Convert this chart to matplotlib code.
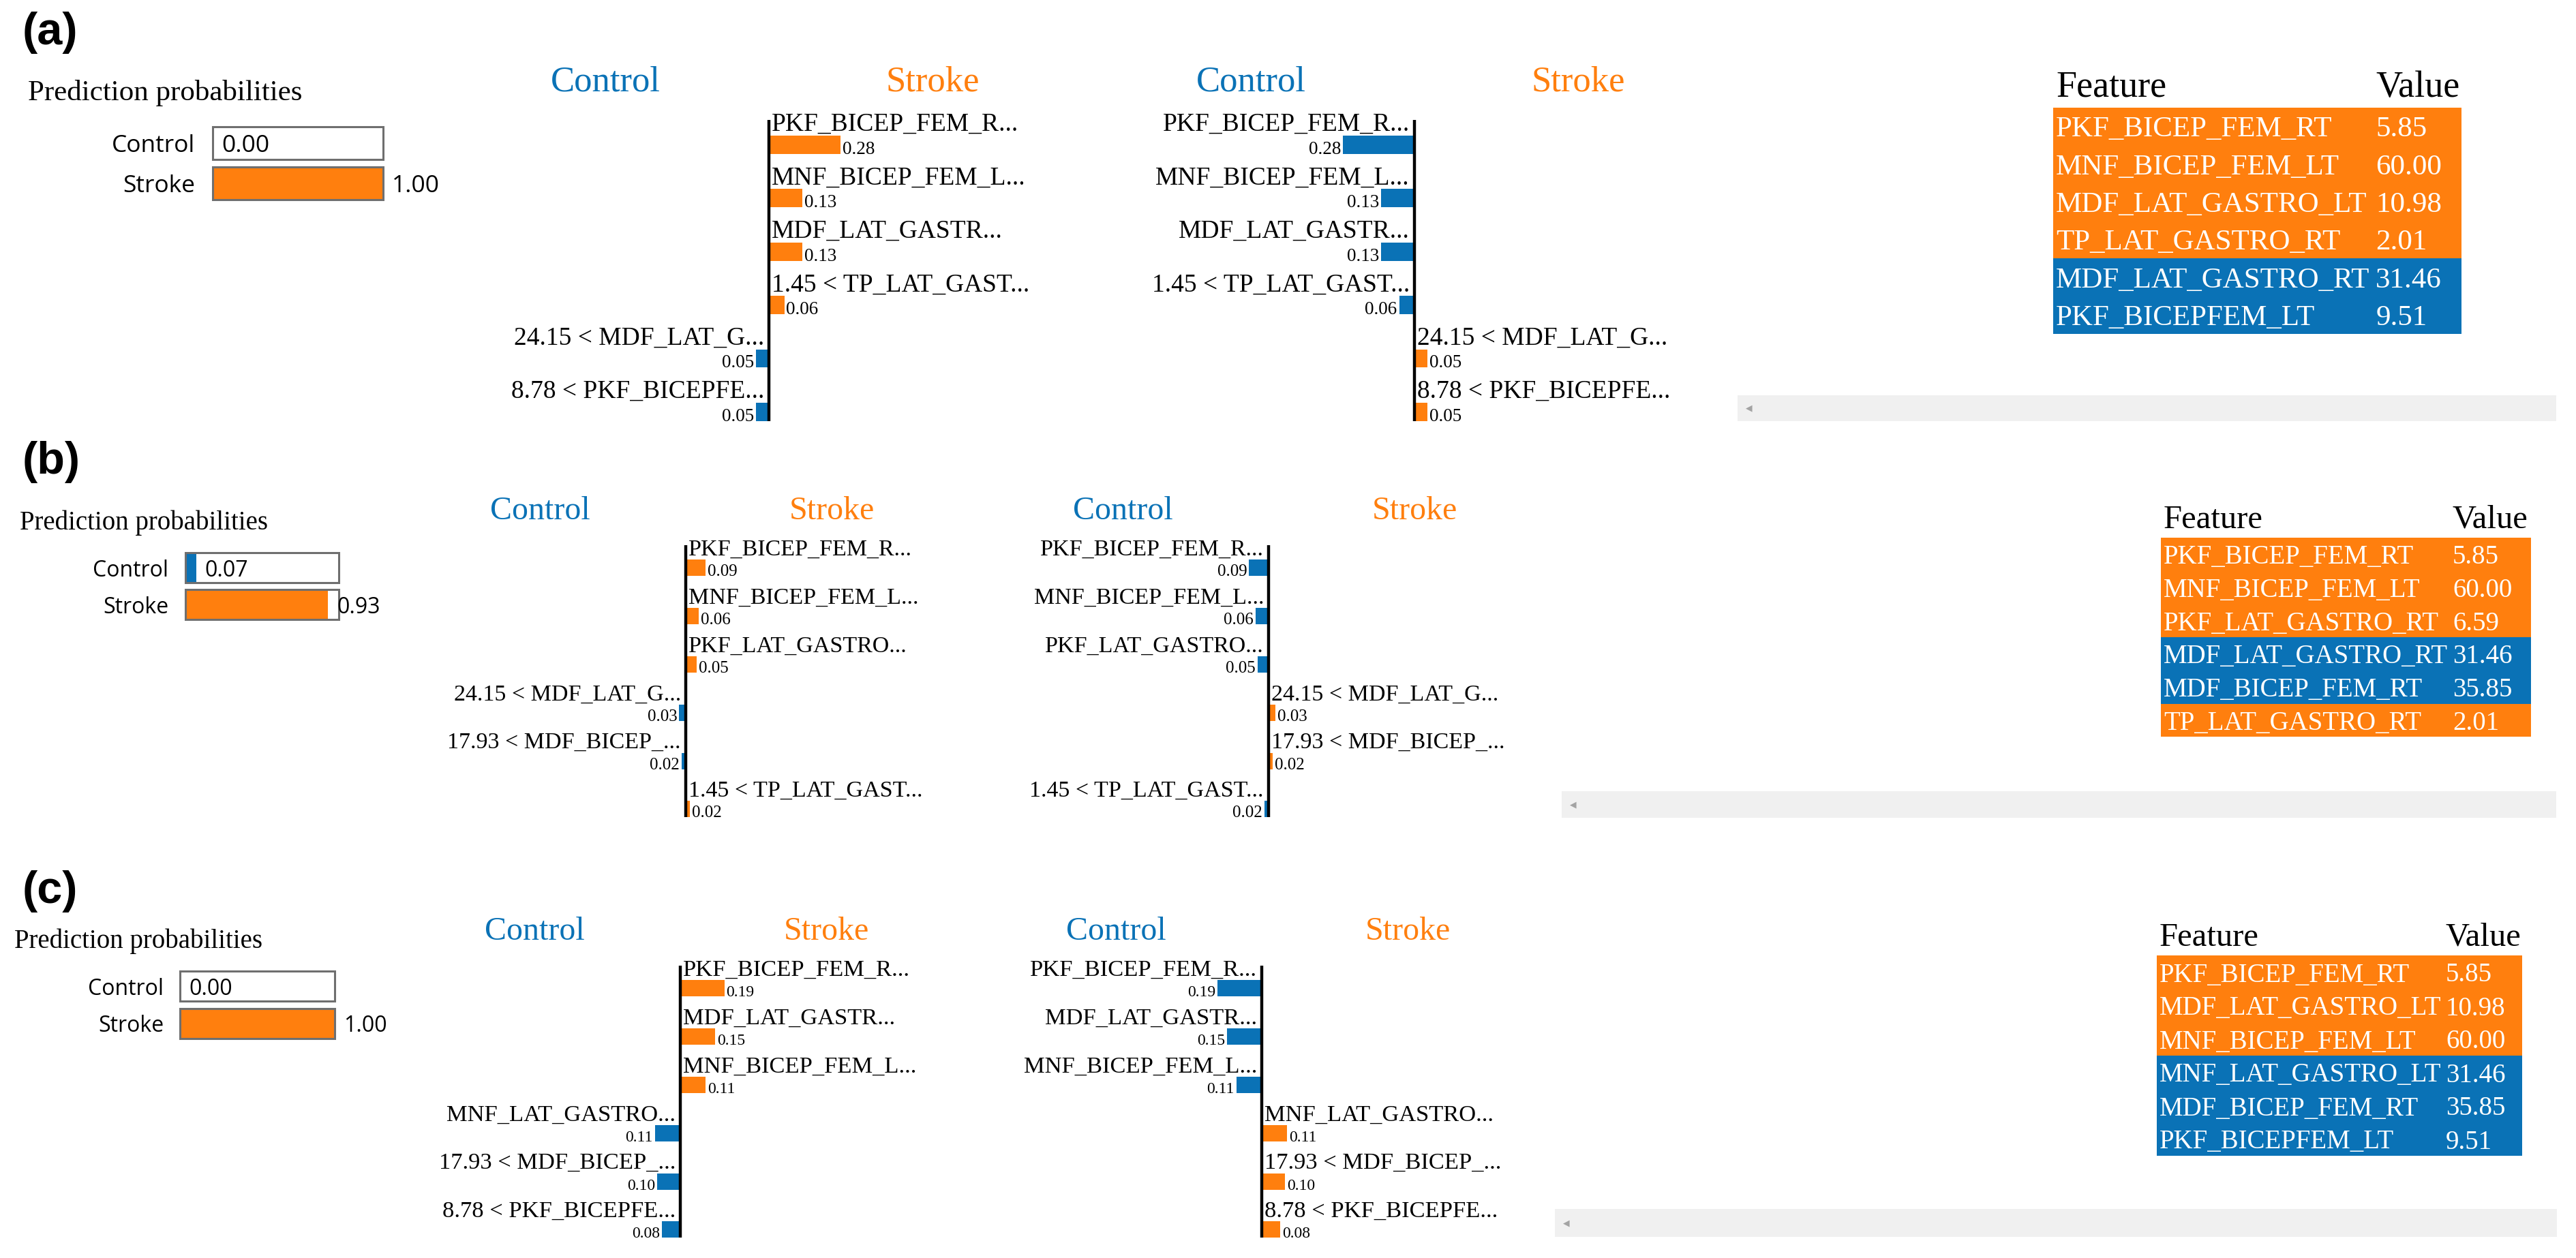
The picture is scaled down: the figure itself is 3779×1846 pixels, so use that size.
import numpy as np
import matplotlib
matplotlib.use("Agg")
import matplotlib.pyplot as plt
from matplotlib.transforms import offset_copy

# ---------------- data ----------------
classes = ["Control", "Stroke"]

proba_a = [0.00, 1.00]
proba_b = [0.07, 0.93]
proba_c = [0.00, 1.00]

feat_a = ["PKF_BICEP_FEM_R...", "MNF_BICEP_FEM_L...", "MDF_LAT_GASTR...",
          "1.45 < TP_LAT_GAST...", "24.15 < MDF_LAT_G...", "8.78 < PKF_BICEPFE..."]
weight_a = [0.28, 0.13, 0.13, 0.06, -0.05, -0.05]

feat_b = ["PKF_BICEP_FEM_R...", "MNF_BICEP_FEM_L...", "PKF_LAT_GASTRO...",
          "24.15 < MDF_LAT_G...", "17.93 < MDF_BICEP_...", "1.45 < TP_LAT_GAST..."]
weight_b = [0.09, 0.06, 0.05, -0.03, -0.02, 0.02]

feat_c = ["PKF_BICEP_FEM_R...", "MDF_LAT_GASTR...", "MNF_BICEP_FEM_L...",
          "MNF_LAT_GASTRO...", "17.93 < MDF_BICEP_...", "8.78 < PKF_BICEPFE..."]
weight_c = [0.19, 0.15, 0.11, -0.11, -0.10, -0.08]

tab_feat_a = ["PKF_BICEP_FEM_RT", "MNF_BICEP_FEM_LT", "MDF_LAT_GASTRO_LT",
              "TP_LAT_GASTRO_RT", "MDF_LAT_GASTRO_RT", "PKF_BICEPFEM_LT"]
tab_val_a = ["5.85", "60.00", "10.98", "2.01", "31.46", "9.51"]
tab_cls_a = [1, 1, 1, 1, 0, 0]

tab_feat_b = ["PKF_BICEP_FEM_RT", "MNF_BICEP_FEM_LT", "PKF_LAT_GASTRO_RT",
              "MDF_LAT_GASTRO_RT", "MDF_BICEP_FEM_RT", "TP_LAT_GASTRO_RT"]
tab_val_b = ["5.85", "60.00", "6.59", "31.46", "35.85", "2.01"]
tab_cls_b = [1, 1, 1, 0, 0, 1]

tab_feat_c = ["PKF_BICEP_FEM_RT", "MDF_LAT_GASTRO_LT", "MNF_BICEP_FEM_LT",
              "MNF_LAT_GASTRO_LT", "MDF_BICEP_FEM_RT", "PKF_BICEPFEM_LT"]
tab_val_c = ["5.85", "10.98", "60.00", "31.46", "35.85", "9.51"]
tab_cls_c = [1, 1, 1, 0, 0, 0]

panel_tags = ["(a)", "(b)", "(c)"]

# ---------------- style / layout ----------------
BLUE = "#0a72b6"
ORANGE = "#ff7f0e"
CLS_COLORS = [BLUE, ORANGE]
SERIF = ["Liberation Serif", "DejaVu Serif"]
SANS = ["Open Sans", "DejaVu Sans"]

W, H = 3779, 1846
fig = plt.figure(figsize=(W / 100, H / 100), dpi=100)
fig.patch.set_facecolor("white")


def px_axes(x0, y0, x1, y1):
    ax = fig.add_axes([x0 / W, 1 - y1 / H, (x1 - x0) / W, (y1 - y0) / H])
    ax.axis("off")
    return ax


def off(ax, dx=0, dy=0):
    return offset_copy(ax.transData, fig=fig, x=dx, y=dy, units="dots")


def fig_text(x, y, s, **kw):
    fig.text(x / W, 1 - y / H, s, **kw)


def proba_chart(lay, probs):
    x0, x1 = lay["box"]
    h, p = lay["h"], lay["pitch"]
    y0 = lay["ctrl_y"]
    y1 = y0 + p + h
    ax = px_axes(x0, y0, x1, y1)
    ax.set_xlim(0, 1)
    ax.set_ylim(1 + h / (2 * p), -h / (2 * p))
    rows = np.arange(len(probs))
    bars = ax.barh(rows, probs, height=h / p, color=CLS_COLORS)
    frame = ax.barh(rows, [1] * len(probs), height=h / p, fill=False,
                    edgecolor="#6f6f6f", linewidth=2.2)
    for b in list(bars) + list(frame):
        b.set_clip_on(False)
    for i, (c, v) in enumerate(zip(classes, probs)):
        ax.text(0, i, c, ha="right", va="center_baseline", family=SANS,
                fontsize=lay["box_fs"], transform=off(ax, -lay["lab_gap"]))
        ax.text(v, i, f"{v:.2f}", ha="left", va="center_baseline", family=SANS,
                fontsize=lay["box_fs"], transform=off(ax, 13))


def explain_chart(lay, axis_x, feats, weights):
    base1, P, sc = lay["base1"], lay["rpitch"], lay["scale"]
    top, bot = -0.21, 5.43
    ax = px_axes(axis_x - sc, base1 + top * P, axis_x + sc, base1 + bot * P)
    ax.set_xlim(-1, 1)
    ax.set_ylim(bot, top)
    rows = np.arange(len(weights))
    cols = [ORANGE if w > 0 else BLUE for w in weights]
    ax.barh(rows + 0.26, weights, height=0.34, color=cols)
    ax.axvline(0, color="black", linewidth=3.2)
    for i, (f, w) in enumerate(zip(feats, weights)):
        if w > 0:
            ax.text(0, i, f, ha="left", va="baseline", family=SERIF,
                    fontsize=lay["fs_lab"], transform=off(ax, 4))
            ax.text(w, i + 0.43, f"{abs(w):.2f}", ha="left", va="baseline",
                    family=SERIF, fontsize=lay["fs_val"], transform=off(ax, 3))
        else:
            ax.text(0, i, f, ha="right", va="baseline", family=SERIF,
                    fontsize=lay["fs_lab"], transform=off(ax, -7))
            ax.text(w, i + 0.43, f"{abs(w):.2f}", ha="right", va="baseline",
                    family=SERIF, fontsize=lay["fs_val"], transform=off(ax, -3))
    t = lay["title_off"] / sc
    ax.text(-t, -0.75, classes[0], ha="center", va="baseline", color=BLUE,
            family=SERIF, fontsize=lay["fs_title"])
    ax.text(t, -0.75, classes[1], ha="center", va="baseline", color=ORANGE,
            family=SERIF, fontsize=lay["fs_title"])


def value_table(lay, feats, vals, cls):
    x0, x1 = lay["tab_x"]
    rt, rh = lay["row_top"], lay["row_h"]
    n = len(feats)
    ax = px_axes(x0, rt, x1, rt + n * rh)
    ax.set_xlim(0, 1)
    ax.set_ylim(n, 0)
    rows = np.arange(n) + 0.5
    bars = ax.barh(rows, [1] * n, height=1.0, left=0,
                   color=[CLS_COLORS[c] for c in cls])
    for b in bars:
        b.set_clip_on(False)
    ind = 4 / (x1 - x0)
    vx = lay["val_frac"]
    for i, (f, v) in enumerate(zip(feats, vals)):
        ax.text(ind, i + 0.5, f, color="white", ha="left", va="center_baseline",
                family=SERIF, fontsize=lay["fs_row"])
        ax.text(vx, i + 0.5, v, color="white", ha="left", va="center_baseline",
                family=SERIF, fontsize=lay["fs_row"])
    ax.text(ind, -0.64, "Feature", ha="left", va="center_baseline",
            family=SERIF, fontsize=lay["fs_head"])
    ax.text(vx, -0.64, "Value", ha="left", va="center_baseline",
            family=SERIF, fontsize=lay["fs_head"])


def scroll_bar(box):
    x0, y0, x1, y1 = box
    ax = fig.add_axes([x0 / W, 1 - y1 / H, (x1 - x0) / W, (y1 - y0) / H])
    ax.set_facecolor("#f0f0f0")
    ax.set_xticks([])
    ax.set_yticks([])
    for s in ax.spines.values():
        s.set_visible(False)
    ax.text(17 / (x1 - x0), 0.5, "\u25C0", transform=ax.transAxes, ha="center",
            va="center", color="#a3a3a3", fontsize=9, family="DejaVu Sans")


layouts = [
    dict(tag_cy=48, pp_x=41, pp_base=147, pp_fs=31,
         box=(312, 562), ctrl_y=186, h=48, pitch=59, lab_gap=26, box_fs=25.5,
         axes_x=(1128, 2075), base1=192, rpitch=78.4, scale=375, title_off=240,
         fs_lab=27, fs_val=19.5, fs_title=38,
         tab_x=(3012, 3611), row_top=158, row_h=55.3, val_frac=0.79,
         fs_row=31, fs_head=39, scroll=(2549, 580, 3750, 618)),
    dict(tag_cy=678, pp_x=29, pp_base=777, pp_fs=28,
         box=(272, 497), ctrl_y=811, h=44, pitch=54, lab_gap=25, box_fs=23,
         axes_x=(1006, 1861), base1=815, rpitch=70.8, scale=320, title_off=214,
         fs_lab=24.5, fs_val=18, fs_title=34.5,
         tab_x=(3170, 3713), row_top=789, row_h=48.7, val_frac=0.788,
         fs_row=28, fs_head=35, scroll=(2291, 1161, 3750, 1200)),
    dict(tag_cy=1308, pp_x=21, pp_base=1391, pp_fs=28,
         box=(264, 491), ctrl_y=1425, h=44, pitch=55, lab_gap=24, box_fs=23,
         axes_x=(998, 1851), base1=1432, rpitch=70.8, scale=340, title_off=214,
         fs_lab=24.8, fs_val=17, fs_title=34.5,
         tab_x=(3164, 3700), row_top=1402, row_h=49, val_frac=0.791,
         fs_row=28, fs_head=35, scroll=(2281, 1774, 3751, 1815)),
]

panels = [
    (proba_a, feat_a, weight_a, tab_feat_a, tab_val_a, tab_cls_a),
    (proba_b, feat_b, weight_b, tab_feat_b, tab_val_b, tab_cls_b),
    (proba_c, feat_c, weight_c, tab_feat_c, tab_val_c, tab_cls_c),
]

for tag, lay, (pr, ft, wt, tf, tv, tc) in zip(panel_tags, layouts, panels):
    fig_text(33, lay["tag_cy"], tag, ha="left", va="center",
             family=["Liberation Sans", "DejaVu Sans"], fontweight="bold", fontsize=48)
    fig_text(lay["pp_x"], lay["pp_base"], "Prediction probabilities", ha="left",
             va="baseline", family=SERIF, fontsize=lay["pp_fs"])
    proba_chart(lay, pr)
    explain_chart(lay, lay["axes_x"][0], ft, wt)
    explain_chart(lay, lay["axes_x"][1], ft, [-w for w in wt])
    value_table(lay, tf, tv, tc)
    scroll_bar(lay["scroll"])

fig.savefig("out.png", dpi=100, facecolor="white")
